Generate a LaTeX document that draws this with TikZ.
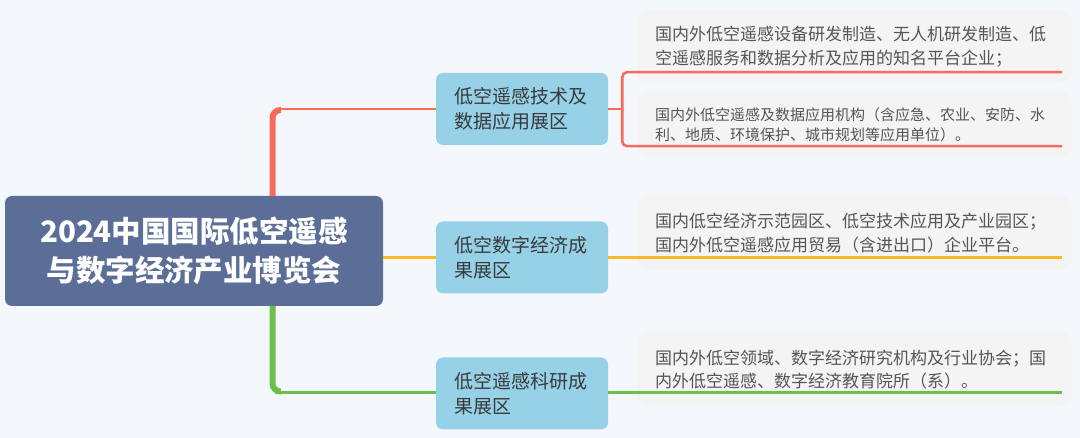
\documentclass[tikz,border=0pt]{standalone}
\usepackage{fontspec}
\setmainfont{Noto Sans CJK SC}
\usepackage{tikz}
\usetikzlibrary{calc}
\definecolor{bgc}{HTML}{F4F8FC}
\definecolor{rootc}{HTML}{5A6E98}
\definecolor{brnc}{HTML}{96D1E7}
\definecolor{brnt}{HTML}{3A3A3A}
\definecolor{lfc}{HTML}{F4F4F4}
\definecolor{lft}{HTML}{555555}
\definecolor{redc}{HTML}{F86B5B}
\definecolor{orgc}{HTML}{FBB829}
\definecolor{grnc}{HTML}{6BC04B}

\begin{document}
\begin{tikzpicture}
            [x=1pt, y=-1pt,
              root/.style={rectangle, rounded corners=7pt, fill=rootc, text=white,
                minimum width=378pt, minimum height=110pt, align=center,
                font=\fontsize{29.5}{39}\selectfont\bfseries},
              brn/.style={rectangle, rounded corners=7pt, fill=brnc, text=brnt,
                minimum height=72pt, text width=135pt, inner xsep=18.5pt,
                align=left, font=\fontsize{19}{25}\selectfont},
              lf/.style={rectangle, rounded corners=12pt, fill=lfc, text=lft,
                text width=399pt, inner xsep=18pt, align=left,
                font=\fontsize{17}{23.5}\selectfont},
              trk/.style={line width=6pt, rounded corners=8pt},
              thn/.style={line width=2.6pt}]
            \fill[bgc] (0,0) rectangle (1080,438);
            \node[root] (rt) at (194,251) {2024中国国际低空遥感\\与数字经济产业博览会};
            \node[brn] (b1) at (522,109) {低空遥感技术及\\数据应用展区};
            \node[brn] (b2) at (522,257.5) {低空数字经济成\\果展区};
            \node[brn] (b3) at (522,393.5) {低空遥感科研成\\果展区};
            \node[lf, minimum height=73pt] (l1) at (854.5,46.5)
              {国内外低空遥感设备研发制造、无人机研发制造、低\\空遥感服务和数据分析及应用的知名平台企业；};
            \node[lf, minimum height=65pt, font=\fontsize{15}{20}\selectfont] (l2) at (854.5,124.5)
              {国内外低空遥感及数据应用机构（含应急、农业、安防、水\\利、地质、环境保护、城市规划等应用单位）。};
            \node[lf, minimum height=74pt] (l3) at (854.5,233)
              {国内低空经济示范园区、低空技术应用及产业园区；\\国内外低空遥感应用贸易（含进出口）企业平台。};
            \node[lf, minimum height=75pt] (l4) at (854.5,369.5)
              {国内外低空领域、数字经济研究机构及行业协会；国\\内外低空遥感、数字经济教育院所（系）。};
            \coordinate (tr) at (272.5,0);
            \coordinate (fk) at ([xshift=14pt]b1.east);
            \coordinate (u1) at ([xshift=-10pt, yshift=11pt]l1.south east);
            \coordinate (u2) at ([xshift=-10pt, yshift=11pt]l2.south east);
            \coordinate (u3) at ([xshift=-10pt]l3.east);
            \coordinate (u4) at ([xshift=-10pt]l4.east);
            \draw[redc, trk] (rt.north -| tr) |- ([xshift=-155pt, yshift=-1pt]b1.west);
            \draw[redc, thn] ([xshift=-161pt]b1.west) -- (b1.west);
            \draw[orgc, thn] (rt.east |- b2.west) -- (b2.west);
            \draw[grnc, trk] (rt.south -| tr) |- ([xshift=-155pt, yshift=2pt]b3.west);
            \draw[grnc, thn] ([xshift=-161pt, yshift=1pt]b3.west) -- ([yshift=1pt]b3.west);
            \draw[redc, thn] (b1.east) -- (fk);
            \draw[redc, thn, rounded corners=5pt] (u1) -- (u1 -| fk) -- (u2 -| fk) -- (u2);
            \draw[orgc, thn] (b2.east) -- (b2.east -| u3);
            \draw[grnc, thn] ([yshift=1pt]b3.east) -- ([yshift=1pt]b3.east -| u4);
        \end{tikzpicture}
\end{document}
